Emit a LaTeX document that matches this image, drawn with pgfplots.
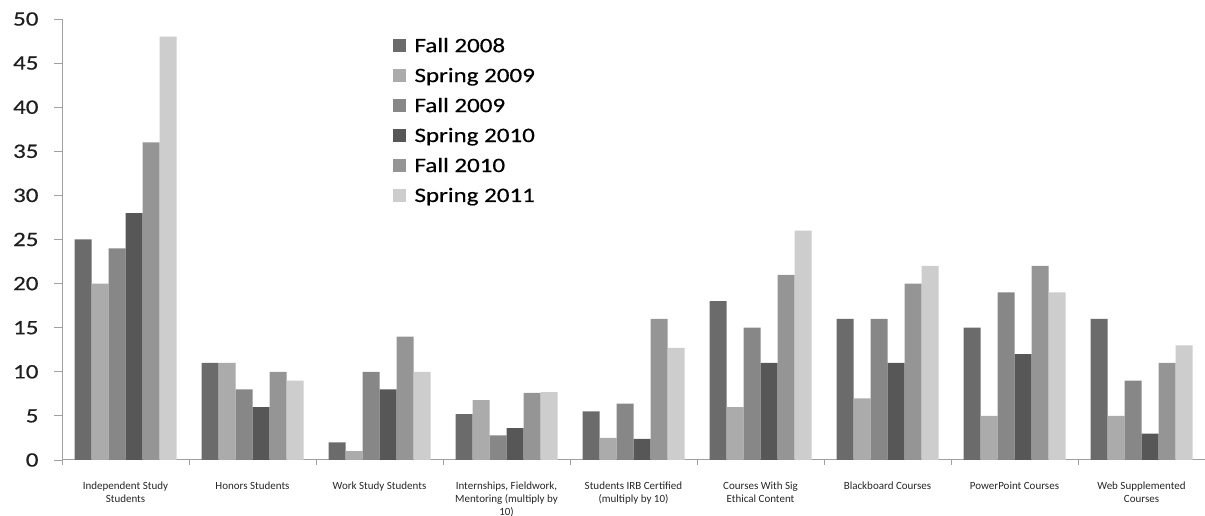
\documentclass[border=0pt]{standalone}
\usepackage{fontspec}
\setmainfont{Carlito}
\newfontfamily\widefont[FakeStretch=1.22, FakeBold=0.4]{Carlito}
\usepackage{pgfplots}
\usepackage{pgfplotstable}
\pgfplotsset{compat=1.18}

\definecolor{cA}{HTML}{6B6B6B}
\definecolor{cB}{HTML}{ABABAB}
\definecolor{cC}{HTML}{878787}
\definecolor{cD}{HTML}{575757}
\definecolor{cE}{HTML}{959595}
\definecolor{cF}{HTML}{CDCDCD}
\definecolor{axisgrey}{HTML}{A0A0A0}

% one row per category, one column per term
\pgfplotstableread{
x   f08  s09  f09  s10  f10  s11
0   25   20   24   28   36   48
1   11   11   8    6    10   9
2   2    1    10   8    14   10
3   5.2  6.8  2.8  3.6  7.6  7.7
4   5.5  2.5  6.4  2.4  16   12.7
5   18   6    15   11   21   26
6   16   7    16   11   20   22
7   15   5    19   12   22   19
8   16   5    9    3    11   13
}\termdata

\begin{document}
\begin{tikzpicture}
\useasboundingbox (0,0) rectangle (1205pt,516pt);
\begin{axis}[
  at={(62pt,56pt)}, anchor=south west,
  scale only axis, width=1143pt, height=441pt,
  ybar=0pt, bar width=17pt,
  xmin=-0.5, xmax=8.5, ymin=0, ymax=50,
  axis x line*=bottom, axis y line*=left,
  axis line style={axisgrey, line width=1pt},
  xtick={0,...,8},
  major x tick style={draw=none},
  minor xtick={-0.5,0.5,...,8.5},
  minor x tick style={axisgrey, line width=0.8pt},
  minor tick length=5pt,
  tick align=outside,
  ytick={0,5,...,50},
  major y tick style={axisgrey, line width=0.8pt},
  major tick length=8pt,
  /pgf/number format/assume math mode=true,
  yticklabel style={font=\widefont\fontsize{20.5}{24}\selectfont, text=black!88, xshift=-12pt},
  xticklabels={
    {Independent Study\\Students},
    {Honors Students},
    {Work Study Students},
    {Internships, Fieldwork,\\Mentoring (multiply by\\10)},
    {Students IRB Certified\\(multiply by 10)},
    {Courses With Sig\\Ethical Content},
    {Blackboard Courses},
    {PowerPoint Courses},
    {Web Supplemented\\Courses}},
  xticklabel style={font=\fontsize{11}{13}\selectfont, align=center, text=black!85, yshift=-10pt},
  legend style={at={(0.289,0.962)}, anchor=north west, draw=none, fill=none,
    inner sep=0pt,
    font=\widefont\fontsize{20.5}{24}\selectfont, row sep=10.3pt,
    /tikz/every odd column/.append style={column sep=7pt}},
  legend cell align=left,
  legend image code/.code={\fill[#1] (0pt,-6.5pt) rectangle (13pt,6.5pt);},
]
\addplot[fill=cA, draw=none] table[x=x, y=f08] {\termdata};
\addplot[fill=cB, draw=none] table[x=x, y=s09] {\termdata};
\addplot[fill=cC, draw=none] table[x=x, y=f09] {\termdata};
\addplot[fill=cD, draw=none] table[x=x, y=s10] {\termdata};
\addplot[fill=cE, draw=none] table[x=x, y=f10] {\termdata};
\addplot[fill=cF, draw=none] table[x=x, y=s11] {\termdata};
\legend{Fall 2008, Spring 2009, Fall 2009, Spring 2010, Fall 2010, Spring 2011}
\end{axis}
\end{tikzpicture}
\end{document}
